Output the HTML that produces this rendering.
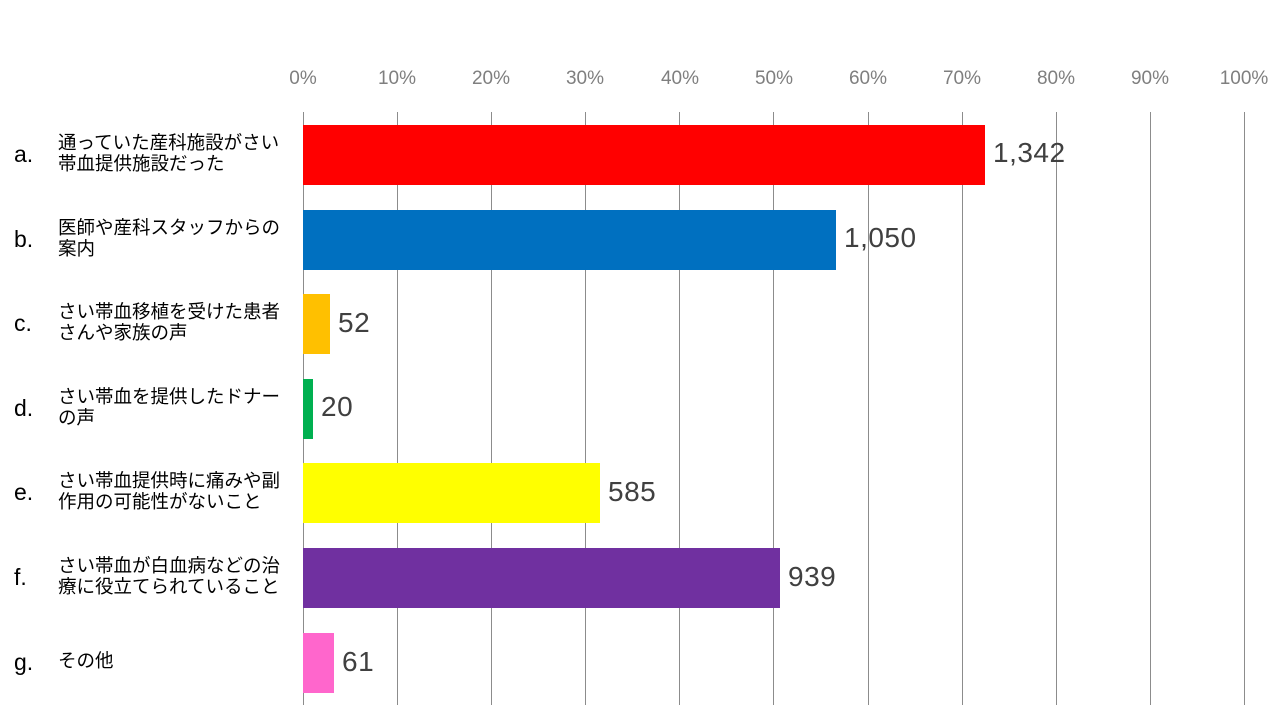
<!DOCTYPE html>
<html><head><meta charset="utf-8"><style>
body{margin:0;width:1280px;height:720px;background:#fff;position:relative;overflow:hidden;font-family:"Liberation Sans","Noto Sans CJK JP",sans-serif}
.g{position:absolute;top:112px;height:593px;width:1px;background:#8c8c8c}
.t{position:absolute;top:68px;width:80px;margin-left:-40px;text-align:center;font-size:19px;color:#7f7f7f}
.b{position:absolute;left:303px;height:60px}
.v{position:absolute;font-size:28px;letter-spacing:0.5px;color:#404040;line-height:60px}
.l{position:absolute;left:14px;font-size:23px;color:#000;line-height:60px}
.c{position:absolute;left:58px;font-size:18.5px;line-height:21px;color:#000;white-space:nowrap}
</style></head><body>
<div class="g" style="left:303px"></div><div class="g" style="left:397px"></div><div class="g" style="left:491px"></div><div class="g" style="left:585px"></div><div class="g" style="left:679px"></div><div class="g" style="left:773px"></div><div class="g" style="left:868px"></div><div class="g" style="left:962px"></div><div class="g" style="left:1056px"></div><div class="g" style="left:1150px"></div><div class="g" style="left:1244px"></div>
<div class="t" style="left:303px">0%</div><div class="t" style="left:397px">10%</div><div class="t" style="left:491px">20%</div><div class="t" style="left:585px">30%</div><div class="t" style="left:680px">40%</div><div class="t" style="left:774px">50%</div><div class="t" style="left:868px">60%</div><div class="t" style="left:962px">70%</div><div class="t" style="left:1056px">80%</div><div class="t" style="left:1150px">90%</div><div class="t" style="left:1244px">100%</div>

<div class="b" style="top:125px;width:682px;background:#ff0000"></div><div class="v" style="top:123px;left:993px">1,342</div>
<div class="b" style="top:210px;width:533px;background:#0070c0"></div><div class="v" style="top:208px;left:844px">1,050</div>
<div class="b" style="top:294px;width:27px;background:#ffc000"></div><div class="v" style="top:293px;left:338px">52</div>
<div class="b" style="top:379px;width:10px;background:#00b050"></div><div class="v" style="top:377px;left:321px">20</div>
<div class="b" style="top:463px;width:297px;background:#ffff00"></div><div class="v" style="top:462px;left:608px">585</div>
<div class="b" style="top:548px;width:477px;background:#7030a0"></div><div class="v" style="top:547px;left:788px">939</div>
<div class="b" style="top:633px;width:31px;background:#ff66cc"></div><div class="v" style="top:632px;left:342px">61</div>

<div class="l" style="top:124px">a.</div><div class="c" style="top:132px">通っていた産科施設がさい<br>帯血提供施設だった</div>
<div class="l" style="top:209px">b.</div><div class="c" style="top:217px">医師や産科スタッフからの<br>案内</div>
<div class="l" style="top:293px">c.</div><div class="c" style="top:301px">さい帯血移植を受けた患者<br>さんや家族の声</div>
<div class="l" style="top:378px">d.</div><div class="c" style="top:386px">さい帯血を提供したドナー<br>の声</div>
<div class="l" style="top:462px">e.</div><div class="c" style="top:470px">さい帯血提供時に痛みや副<br>作用の可能性がないこと</div>
<div class="l" style="top:547px">f.</div><div class="c" style="top:555px">さい帯血が白血病などの治<br>療に役立てられていること</div>
<div class="l" style="top:632px">g.</div><div class="c" style="top:650px">その他</div>
</body></html>
